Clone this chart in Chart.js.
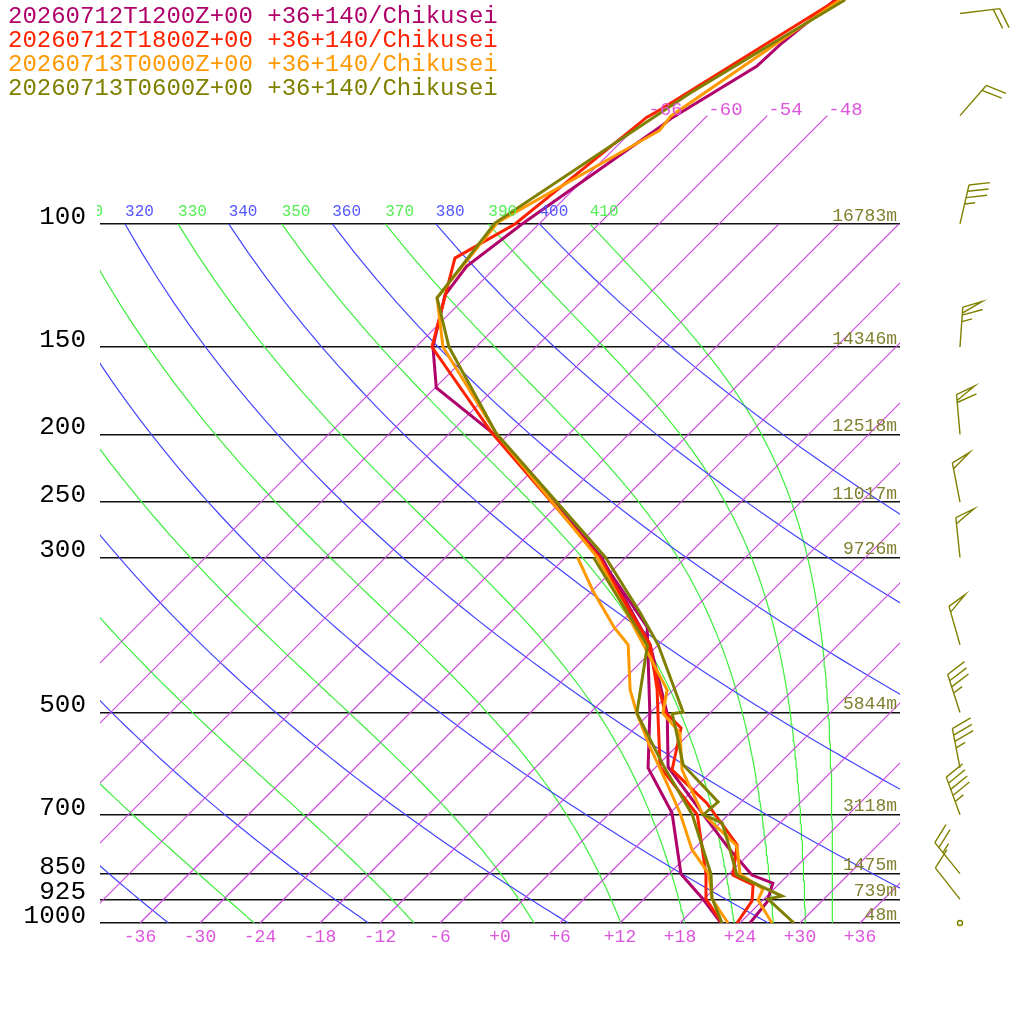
<!DOCTYPE html>
<html>
<head>
<meta charset="utf-8">
<script src="https://cdn.jsdelivr.net/npm/chart.js@4.4.1/dist/chart.umd.min.js"></script>
<style>
html, body { margin: 0; padding: 0; background: #fff; }
#wrap { width: 1024px; height: 1024px; }
</style>
</head>
<body>
<div id="wrap"><canvas id="skewt" width="1024" height="1024"></canvas></div>
<script>
// run names and colours
var runLabels = [
    '20260712T1200Z+00 +36+140/Chikusei',
    '20260712T1800Z+00 +36+140/Chikusei',
    '20260713T0000Z+00 +36+140/Chikusei',
    '20260713T0600Z+00 +36+140/Chikusei'
];
var runColors = ['#b0006a', '#ff2200', '#ff9900', '#808000'];

// temperature profiles (hPa, degC)
var p12 = [1000, 933, 877, 854, 779, 700, 598, 502, 400, 300, 199.5, 171.5, 150, 126.4, 115, 100, 72.6, 70.4, 59.5, 55.1, 47.8];
var t12 = [25.0, 24.6, 23.3, 20.4, 15.2, 9.5, 1.2, -4.2, -12.8, -26.4, -49.6, -59.9, -64.3, -68.3, -69.0, -67.7, -63.6, -63.3, -60.0, -59.8, -58.8];
var p18 = [1000, 930, 882, 854, 773, 674, 604, 526, 499, 400, 300, 199.5, 150, 111.9, 100, 70.4, 68.6, 47.8];
var t18 = [23.7, 23.0, 21.5, 18.5, 15.9, 8.7, 1.9, -1.4, -4.6, -13.0, -26.6, -49.7, -64.4, -71.0, -68.4, -65.9, -65.3, -58.6];
var p00 = [1000, 927, 894, 851, 776, 696, 604, 535, 501, 464, 398, 300, 199.5, 150, 127.6, 99.4, 73.5, 70.0, 47.8];
var t00 = [27.2, 23.5, 22.9, 19.1, 16.0, 9.2, 2.9, -1.0, -4.7, -6.6, -13.7, -26.8, -49.3, -63.3, -68.8, -70.3, -63.3, -63.6, -58.3];
var p06 = [1000, 924, 915, 854, 776, 719, 700, 671, 594, 524, 502, 499, 400, 360, 300, 199.5, 150, 127.6, 99.7, 65.0, 47.8];
var t06 = [29.4, 24.4, 25.5, 18.9, 15.2, 12.2, 9.5, 9.7, 2.5, -2.1, -3.7, -2.8, -12.0, -17.0, -26.0, -49.3, -62.7, -68.8, -70.5, -64.0, -57.8];

// dew point profiles (hPa, degC)
var pd12 = [1000, 924, 851, 696, 600, 501, 377, 300];
var td12 = [22.1, 17.9, 13.2, 6.2, -0.7, -6.0, -14.9, -26.6];
var pd18 = [1000, 924, 851, 700, 598, 517, 464, 400, 300];
var td18 = [22.2, 18.2, 15.7, 8.9, 0.4, -4.2, -7.6, -12.8, -26.7];
var pd00 = [1000, 924, 851, 786, 696, 631, 560, 501, 464, 400, 378, 335, 300];
var td00 = [22.8, 18.8, 16.0, 11.9, 7.0, 2.7, -2.6, -7.3, -10.3, -15.0, -18.1, -23.9, -28.8];
var pd06 = [1000, 921, 851, 700, 598, 501, 401, 300];
var td06 = [22.2, 18.7, 16.2, 8.4, 0.8, -7.3, -13.0, -27.2];

// winds (direction deg, speed kt)
var windP = [50, 70, 100, 150, 200, 250, 300, 400, 500, 600, 700, 850, 925, 1000];
var windDir = [83, 41, 13, 4, 355, 349, 354, 344, 342, 349, 340, 321, 322, 0];
var windKt = [20, 20, 35, 65, 60, 50, 50, 50, 35, 35, 45, 25, 10, 0];

// geopotential heights of the isobars
var hgtP = [100, 150, 200, 250, 300, 500, 700, 850, 925, 1000];
var hgtM = [16783, 14346, 12518, 11017, 9726, 5844, 3118, 1475, 739, 48];

// axis ticks and background lines
var pressureTicks = [100, 150, 200, 250, 300, 500, 700, 850, 925, 1000];
var tempTicks = [-36, -30, -24, -18, -12, -6, 0, 6, 12, 18, 24, 30, 36];
var isotherms = [-66, -60, -54, -48, -42, -36, -30, -24, -18, -12, -6, 0, 6, 12, 18, 24, 30, 36];
var dryThetas = [240, 260, 280, 300, 320, 340, 360, 380, 400];
var moistThetas = [250, 270, 290, 310, 330, 350, 370, 390, 410];

var SKEW = 30.36;                 // degC of skew per unit ln(p)
var PTOP = 1000 * Math.exp(-923 / 303.6);
var MONO = '"Liberation Mono", "DejaVu Sans Mono", monospace';

function sx(t, p) {
    return t + SKEW * Math.log(1000 / p);
}

function profile(ps, ts) {
    return ps.map(function (p, i) { return { x: sx(ts[i], p), y: p }; });
}

function dryT(theta, p) {
    return theta * Math.pow(p / 1000, 0.2857) - 273.15;
}

// Bolton (1980) saturated equivalent potential temperature
function thetaEs(tc, p) {
    var tk = tc + 273.15;
    var e = 6.112 * Math.exp(17.67 * tc / (tc + 243.5));
    var r = 622 * e / (p - e);
    return tk * Math.pow(1000 / p, 0.2854 * (1 - 0.00028 * r)) *
        Math.exp((3.376 / tk - 0.00254) * r * (1 + 0.00081 * r));
}

function moistT(thetaE, p) {
    var lo = -130, hi = 40;
    for (var k = 0; k < 50; k++) {
        var mid = (lo + hi) / 2;
        if (thetaEs(mid, p) > thetaE) hi = mid; else lo = mid;
    }
    return (lo + hi) / 2;
}

var levels = [];
for (var lp = 1000; lp >= 100; lp -= 10) levels.push(lp);

function bgLine(data, color) {
    return {
        data: data, showLine: true, borderColor: color, borderWidth: 1.2,
        pointRadius: 0, tension: 0, order: 10
    };
}

var datasets = [];

isotherms.forEach(function (t) {
    var top = t <= -48 ? 70 : 100;
    datasets.push(bgLine([{ x: sx(t, 1000), y: 1000 }, { x: sx(t, top), y: top }], '#cc44dd'));
});
dryThetas.forEach(function (th) {
    datasets.push(bgLine(levels.map(function (p) { return { x: sx(dryT(th, p), p), y: p }; }), '#4444ff'));
});
moistThetas.forEach(function (th) {
    datasets.push(bgLine(levels.map(function (p) { return { x: sx(moistT(th, p), p), y: p }; }), '#3dee3d'));
});

function profLine(data, color, order) {
    return {
        data: data, showLine: true, borderColor: color, borderWidth: 3,
        pointRadius: 0, tension: 0, order: order
    };
}

datasets.push(profLine(profile(p12, t12), runColors[0], 3));
datasets.push(profLine(profile(pd12, td12), runColors[0], 3));
datasets.push(profLine(profile(p18, t18), runColors[1], 2));
datasets.push(profLine(profile(pd18, td18), runColors[1], 2));
datasets.push(profLine(profile(p00, t00), runColors[2], 1));
datasets.push(profLine(profile(pd00, td00), runColors[2], 1));
datasets.push(profLine(profile(p06, t06), runColors[3], 0));
datasets.push(profLine(profile(pd06, td06), runColors[3], 0));

function drawBarb(ctx, x0, y0, dir, spd) {
    ctx.beginPath();
    if (spd < 2.5) {
        ctx.arc(x0, y0, 2.5, 0, Math.PI * 2);
        ctx.stroke();
        return;
    }
    var a = dir * Math.PI / 180;
    var ux = Math.sin(a), uy = -Math.cos(a);
    var px = -uy, py = ux;
    var L = 40;
    var tx = x0 + ux * L, ty = y0 + uy * L;
    ctx.moveTo(x0, y0);
    ctx.lineTo(tx, ty);
    var s = Math.round(spd / 5) * 5;
    var d = 0;
    function at(dd) { return [tx - ux * dd, ty - uy * dd]; }
    while (s >= 50) {
        var b = at(d), c = at(d + 6);
        ctx.moveTo(b[0], b[1]);
        ctx.lineTo(b[0] + ux * 7 + px * 19, b[1] + uy * 7 + py * 19);
        ctx.lineTo(c[0], c[1]);
        d += 8;
        s -= 50;
    }
    while (s >= 10) {
        var f = at(d);
        ctx.moveTo(f[0], f[1]);
        ctx.lineTo(f[0] + ux * 7 + px * 20, f[1] + uy * 7 + py * 20);
        d += 6.5;
        s -= 10;
    }
    if (s >= 5) {
        var h = at(d);
        ctx.moveTo(h[0], h[1]);
        ctx.lineTo(h[0] + ux * 3.5 + px * 10, h[1] + uy * 3.5 + py * 10);
    }
    ctx.stroke();
}

var decor = {
    id: 'decor',
    afterDraw: function (chart) {
        var ctx = chart.ctx;
        var xs = chart.scales.x, ys = chart.scales.y, area = chart.chartArea;
        ctx.save();

        // legend
        ctx.font = '24px ' + MONO;
        ctx.textAlign = 'left';
        ctx.textBaseline = 'middle';
        runLabels.forEach(function (txt, i) {
            ctx.fillStyle = runColors[i];
            ctx.fillText(txt, 8, 17 + 24 * i);
        });

        // theta labels along 100 hPa
        ctx.save();
        ctx.beginPath();
        ctx.rect(area.left - 3, 0, area.right - area.left + 3, 1024);
        ctx.clip();
        ctx.font = '16px ' + MONO;
        var y100 = ys.getPixelForValue(100) - 12;
        dryThetas.forEach(function (th) {
            ctx.fillStyle = '#5555ff';
            ctx.fillText(String(th), xs.getPixelForValue(sx(dryT(th, 100), 100)), y100);
        });
        moistThetas.forEach(function (th) {
            ctx.fillStyle = '#55ee55';
            ctx.fillText(String(th), xs.getPixelForValue(sx(moistT(th, 100), 100)), y100);
        });
        ctx.restore();

        // isotherm labels at the top of the long isotherms
        ctx.font = '19px ' + MONO;
        ctx.fillStyle = '#dd55dd';
        isotherms.forEach(function (t) {
            if (t > -48) return;
            ctx.fillText(String(t), xs.getPixelForValue(sx(t, 70)) + 1, ys.getPixelForValue(70) - 6);
        });

        // heights
        ctx.font = '18px ' + MONO;
        ctx.fillStyle = '#808030';
        ctx.textAlign = 'right';
        hgtP.forEach(function (p, i) {
            ctx.fillText(hgtM[i] + 'm', area.right - 3, ys.getPixelForValue(p) - 8);
        });

        // wind barbs
        ctx.strokeStyle = '#808000';
        ctx.lineWidth = 1.4;
        windP.forEach(function (p, i) {
            drawBarb(ctx, 960, ys.getPixelForValue(p), windDir[i], windKt[i]);
        });
        ctx.restore();
    }
};

var config = {
    type: 'scatter',
    data: { datasets: datasets },
    options: {
        responsive: false,
        animation: false,
        devicePixelRatio: 1,
        layout: { padding: { left: 0, right: 124, top: 0, bottom: 0 } },
        plugins: { legend: { display: false }, tooltip: { enabled: false } },
        scales: {
            x: {
                type: 'linear', min: -40, max: 40,
                grid: { display: false, drawTicks: false, tickLength: 0 }, border: { display: false },
                afterFit: function (s) { s.height = 101; s.paddingLeft = 0; s.paddingRight = 0; },
                afterBuildTicks: function (s) { s.ticks = tempTicks.map(function (v) { return { value: v }; }); },
                ticks: {
                    padding: 3, color: '#dd55dd', autoSkip: false, maxRotation: 0,
                    font: { family: MONO, size: 18 },
                    callback: function (v) { return v >= 0 ? '+' + v : String(v); }
                }
            },
            y: {
                type: 'logarithmic', reverse: true, min: PTOP, max: 1000, position: 'left',
                grid: { color: '#111', lineWidth: 1.5, drawTicks: false },
                border: { display: false },
                afterFit: function (s) { s.width = 100; s.paddingTop = 0; s.paddingBottom = 0; },
                afterBuildTicks: function (s) { s.ticks = pressureTicks.map(function (v) { return { value: v }; }); },
                ticks: {
                    padding: 14, labelOffset: -7, color: '#000', autoSkip: false,
                    font: { family: MONO, size: 26 },
                    callback: function (v) { return String(v); }
                }
            }
        }
    },
    plugins: [decor]
};

var ctx = document.getElementById('skewt').getContext('2d');
window.skewChart = new Chart(ctx, config);
</script>
</body>
</html>
